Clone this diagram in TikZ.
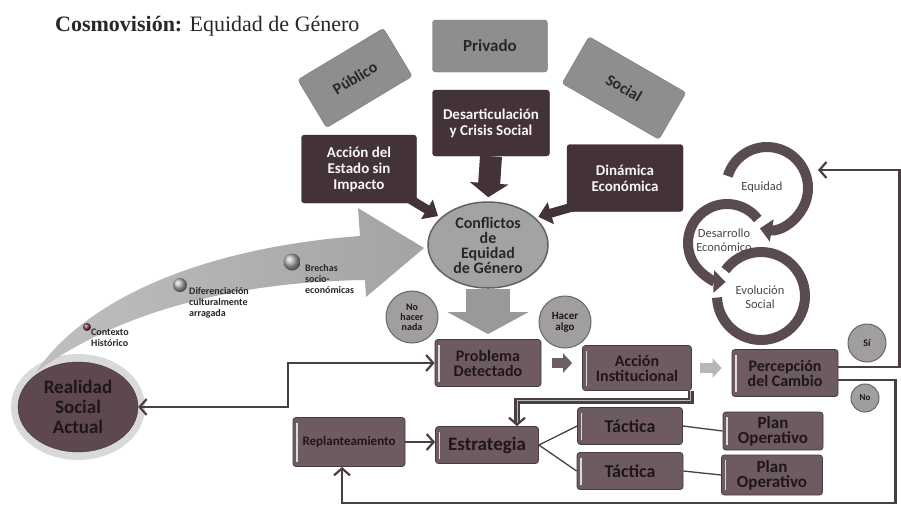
\documentclass[tikz,border=0pt]{standalone}
\usepackage{fontspec}
\setmainfont{Carlito}
\newfontfamily\titlefont{Liberation Serif}
\usetikzlibrary{shapes.geometric,arrows.meta,calc}
\definecolor{gbox}{HTML}{8F8D8E}
\definecolor{gtext}{HTML}{2A2728}
\definecolor{darkb}{HTML}{43323A}
\definecolor{lowb}{HTML}{6D5A63}
\definecolor{lowt}{HTML}{1E1619}
\definecolor{confc}{HTML}{A4A3A4}
\definecolor{realc}{HTML}{5D4751}
\definecolor{ringc}{HTML}{5A4B53}
\definecolor{linec}{HTML}{4A3E44}
\definecolor{ballc}{HTML}{A09E9F}
\definecolor{midarrow}{HTML}{6D5D65}
\definecolor{lightarrow}{HTML}{B8B6B7}
\definecolor{garrow}{HTML}{9A9899}
\begin{document}
\begin{tikzpicture}[x=1pt,y=-1pt,
  box/.style={rectangle, rounded corners=3pt, inner sep=1pt, align=center},
  graybox/.style={box, fill=gbox, draw=gbox!85!black, text=gtext, font=\bfseries\fontsize{16}{16}\selectfont},
  darkbox/.style={box, fill=darkb, draw=darkb!80!black, text=white!93!gray, font=\bfseries\fontsize{15}{16}\selectfont},
  lowbox/.style={box, fill=lowb, draw=lowb!65!black, line width=0.8pt, text=lowt,
    font=\color{lowt}\bfseries\fontsize{16}{15}\selectfont,
    path picture={\draw[white!72!gray, line width=1.6pt]
      ([xshift=4pt,yshift=-5pt]path picture bounding box.north west) --
      ([xshift=4pt,yshift=5pt]path picture bounding box.south west);}},
  ball/.style={circle, fill=ballc, draw=ballc!65!black, line width=1pt, inner sep=0, align=center, text=lowt,
    font=\bfseries\fontsize{10}{10}\selectfont},
  conn/.style={draw=linec, line width=2.2pt},
  tconn/.style={draw=linec, line width=1.3pt},
  barb/.style={-{Straight Barb[length=7pt,width=16pt]}},
  ring/.style={draw=ringc, line width=10pt},
  ringlbl/.style={inner sep=0, align=center, text=gtext!85!white, font=\fontsize{12.5}{13.5}\selectfont},
  arrlbl/.style={inner sep=0, align=left, anchor=north west, text=gtext, font=\bfseries\fontsize{10}{11}\selectfont}
]
\useasboundingbox (0,0) rectangle (901,515);
\fill[white] (0,0) rectangle (901,515);

% title
\node[anchor=base west, inner sep=0, text=gtext, font=\titlefont\fontsize{22}{22}\selectfont] (title) at (55,31)
  {\textbf{Cosmovisión:} Equidad de Género};

% top gray boxes
\node[graybox, minimum width=100pt, minimum height=56pt, rotate=31] (pub) at (355,78) {Público};
\node[graybox, minimum width=115pt, minimum height=52pt, font=\bfseries\fontsize{17}{17}\selectfont] (priv) at (490,46) {Privado};
\node[graybox, minimum width=112pt, minimum height=54pt, rotate=-30] (soc) at (624,88) {Social};

% dark boxes
\node[darkbox, minimum width=117pt, minimum height=66pt] (des) at (491,123) {Desarticulación\\y Crisis Social};
\node[darkbox, minimum width=115pt, minimum height=68pt] (accE) at (359,169) {Acción del\\Estado sin\\Impacto};
\node[darkbox, minimum width=116pt, minimum height=67pt] (din) at (625,178) {Dinámica\\Económica};

% big curved arrow
\coordinate (rc) at (78,407);
\fill[gray!30] (rc) ellipse [x radius=67pt, y radius=53pt];
\shade[left color=gray!50, right color=gray!72]
  (36,372) .. controls (85,300) and (200,248) .. (360,236) -- (358,208) -- (424,248) -- (366,297) -- (365,280)
  .. controls (220,282) and (110,318) .. (36,372) -- cycle;
\shade[ball color=realc!80!red] (87,327) circle (4pt);
\shade[ball color=gray!60] (180,285) circle (7pt);
\shade[ball color=gray!60] (292,262) circle (8.5pt);
\node[arrlbl] (lctx) at (91,329) {Contexto\\Histórico};
\node[arrlbl] (ldif) at (189,287) {Diferenciación\\culturalmente\\arragada};
\node[arrlbl] (lbre) at (305,264) {Brechas\\socio-\\económicas};

% conflictos
\node[ellipse, fill=confc, draw=confc!60!black, line width=1.5pt, minimum width=120pt, minimum height=86pt,
  inner sep=0, align=center, text=gtext, font=\bfseries\fontsize{16}{15}\selectfont] (conf) at (488,245)
  {Conflictos\\de\\Equidad\\de Género};

% realidad
\node[ellipse, fill=realc, draw=realc!80!black, minimum width=120pt, minimum height=90pt, inner sep=0,
  align=center, text=lowt, font=\color{lowt}\bfseries\fontsize{19}{20}\selectfont] (real) at (rc) {Realidad\\Social\\Actual};

% decision balls
\node[ball, minimum size=52pt, font=\bfseries\fontsize{10}{10}\selectfont] (noh) at (412,317) {No\\hacer\\nada};
\node[ball, minimum size=52pt, font=\bfseries\fontsize{11}{11}\selectfont] (hac) at (565,322) {Hacer\\algo};
\node[ball, minimum size=38pt] (si) at (867,343) {Sí};
\node[ball, minimum size=28pt, font=\bfseries\fontsize{9}{9}\selectfont] (no) at (865,398) {No};

% lower boxes
\node[lowbox, minimum width=106pt, minimum height=47pt] (prob) at (488,363) {Problema\\Detectado};
\node[lowbox, minimum width=109pt, minimum height=45pt] (acc) at (637,368) {Acción\\Institucional};
\node[lowbox, minimum width=106pt, minimum height=47pt] (per) at (785,373) {Percepción\\del Cambio};
\node[lowbox, minimum width=112pt, minimum height=49pt, font=\color{lowt}\bfseries\fontsize{13}{13}\selectfont] (rep) at (349,442) {Replanteamiento};
\node[lowbox, minimum width=103pt, minimum height=37pt, font=\color{lowt}\bfseries\fontsize{19}{19}\selectfont] (est) at (487,445) {Estrategia};
\node[lowbox, minimum width=105pt, minimum height=37pt, font=\color{lowt}\bfseries\fontsize{18}{18}\selectfont] (t1) at (630,426) {Táctica};
\node[lowbox, minimum width=106pt, minimum height=37pt, font=\color{lowt}\bfseries\fontsize{18}{18}\selectfont] (t2) at (630,471) {Táctica};
\node[lowbox, minimum width=100pt, minimum height=38pt, font=\color{lowt}\bfseries\fontsize{17}{15}\selectfont] (p1) at (773,431) {Plan\\Operativo};
\node[lowbox, minimum width=101pt, minimum height=40pt, font=\color{lowt}\bfseries\fontsize{17}{15}\selectfont] (p2) at (772,475) {Plan\\Operativo};

% block arrows
\draw[line width=22pt, draw=darkb, -{Triangle[length=14pt,width=38pt]}, shorten >=4pt] (des.south) -- (conf.north);
\draw[line width=44pt, draw=garrow, -{Triangle[length=22pt,width=80pt]}, shorten >=5pt] (conf.south) -- (prob.north);
\draw[line width=9pt, draw=darkb, -{Triangle[length=13pt,width=22pt]}, shorten >=3pt] ([xshift=-10pt,yshift=6pt]accE.south east) -- (conf.150);
\draw[line width=9pt, draw=darkb, -{Triangle[length=13pt,width=22pt]}, shorten >=3pt] ([xshift=10pt,yshift=6pt]din.south west) -- (conf.30);
\draw[line width=10pt, draw=midarrow, -{Triangle[length=9pt,width=19pt]}, shorten <=11pt, shorten >=10pt] (prob.east) -- (prob.east -| acc.west);
\draw[line width=10pt, draw=lightarrow, -{Triangle[length=9pt,width=19pt]}, shorten <=8pt, shorten >=10pt] (acc.east) -- (acc.east -| per.west);

% cycle rings
\draw[ring, -{Triangle[length=12pt,width=22pt]}] ([shift={(163:41pt)}]767,188) arc[start angle=163, end angle=-100, radius=41pt];
\draw[ring, -{Triangle[length=12pt,width=22pt]}] ([shift={(38:39pt)}]727,243) arc[start angle=38, end angle=268, radius=39pt];
\draw[ring] ([shift={(144:44pt)}]761,296) arc[start angle=144, end angle=-178, radius=44pt];
\node[ringlbl] (eqt) at (762,187) {Equidad};
\node[ringlbl] (det) at (724,240) {Desarrollo\\Económico};
\node[ringlbl] (evt) at (760,297) {Evolución\\Social};
\coordinate (eqin) at (818,170);

% connectors
\draw[conn, {Straight Barb[length=7pt,width=16pt]}-{Straight Barb[length=7pt,width=16pt]}]
  (real.east) -- ++(150,0) |- (prob.west);
\draw[conn, double=gray!55, double distance=1pt, barb] ([xshift=-1pt]acc.south east) -- ++(0,10) -| ([xshift=30pt]est.north);
\draw[conn, barb] ([yshift=6pt]per.east) -- ++(61,0) |- (eqin);
\draw[conn, barb] ([yshift=-7pt]per.east) -- ++(57,0) -- ++(0,123) -| ([xshift=-7pt]rep.south);
\draw[conn, barb] (rep.east) -- (rep.east -| est.west);
\draw[tconn] (est.east) -- (t1.west);
\draw[tconn] (est.east) -- (t2.west);
\draw[tconn] (t1.east) -- (p1.west);
\draw[tconn] (t2.east) -- (p2.west);
\end{tikzpicture}
\end{document}
